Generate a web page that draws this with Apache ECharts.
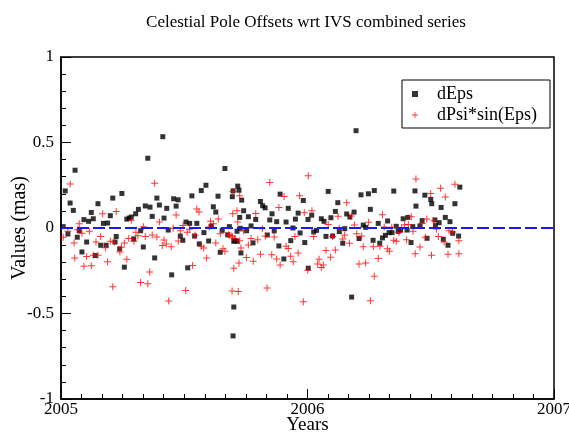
<!DOCTYPE html>
<html>
<head>
<meta charset="utf-8">
<script src="https://cdn.jsdelivr.net/npm/echarts@6/dist/echarts.min.js"></script>
<style>html,body{margin:0;padding:0;background:#fff;}#c{width:569px;height:437px;}</style>
</head>
<body>
<div id="c"></div>
<script>
var titleText = 'Celestial Pole Offsets wrt IVS combined series';
var seriesNames = ['dEps', 'dPsi*sin(Eps)'];
var xRange = [2005, 2007];
var yRange = [-1, 1];

var dEps = [
[2005.009,0.008],[2005.017,0.217],[2005.028,-0.035],[2005.037,0.146],[2005.050,0.103],[2005.057,0.338],
[2005.066,-0.054],[2005.074,-0.016],[2005.085,-0.140],[2005.093,0.049],[2005.104,-0.082],[2005.112,0.039],
[2005.123,0.091],[2005.131,0.054],[2005.139,-0.161],[2005.150,0.142],[2005.161,-0.101],[2005.172,0.027],
[2005.183,-0.101],[2005.189,0.029],[2005.200,0.072],[2005.210,0.175],[2005.219,-0.082],[2005.224,-0.050],
[2005.238,-0.122],[2005.247,0.202],[2005.257,-0.229],[2005.267,0.052],[2005.277,0.058],[2005.285,0.064],
[2005.295,-0.064],[2005.303,0.083],[2005.314,0.109],[2005.323,-0.016],[2005.334,-0.111],[2005.342,0.129],
[2005.352,0.408],[2005.361,0.122],[2005.370,0.068],[2005.380,-0.175],[2005.389,0.175],[2005.399,0.134],
[2005.413,0.534],[2005.418,0.058],[2005.429,0.115],[2005.435,-0.012],[2005.449,-0.274],[2005.457,0.171],
[2005.467,0.128],[2005.475,0.165],[2005.484,-0.047],[2005.494,-0.072],[2005.507,0.035],[2005.514,-0.233],
[2005.522,0.027],[2005.531,0.188],[2005.542,-0.047],[2005.551,0.027],[2005.561,-0.093],[2005.569,0.219],
[2005.580,-0.027],[2005.588,0.250],[2005.599,-0.076],[2005.609,0.010],[2005.618,0.124],[2005.628,0.093],
[2005.637,0.186],[2005.646,-0.142],[2005.654,-0.014],[2005.665,0.348],[2005.676,-0.040],[2005.683,0.008],
[2005.695,0.183],[2005.698,0.217],[2005.701,-0.078],[2005.701,-0.462],[2005.698,-0.631],[2005.705,-0.072],
[2005.714,-0.078],[2005.717,0.245],[2005.714,-0.019],[2005.722,0.221],[2005.725,0.062],[2005.727,-0.002],
[2005.730,-0.146],[2005.733,0.163],[2005.741,0.101],[2005.753,-0.016],[2005.760,0.066],[2005.771,0.012],
[2005.779,-0.087],[2005.790,0.050],[2005.809,0.155],[2005.818,0.130],[2005.828,0.118],[2005.837,-0.041],
[2005.847,0.047],[2005.856,0.083],[2005.865,-0.017],[2005.875,0.037],[2005.884,-0.105],[2005.889,0.198],
[2005.904,-0.181],[2005.913,0.035],[2005.922,0.115],[2005.932,-0.074],[2005.941,0.000],[2005.951,0.052],
[2005.962,0.087],[2005.970,-0.029],[2005.983,0.161],[2005.989,-0.085],[2006.002,0.050],[2006.003,-0.235],
[2006.017,0.075],[2006.025,-0.023],[2006.037,-0.014],[2006.056,0.054],[2006.067,0.039],[2006.075,-0.049],
[2006.084,0.214],[2006.095,0.060],[2006.102,-0.047],[2006.113,0.097],[2006.123,0.148],[2006.129,-0.021],
[2006.143,-0.089],[2006.151,-0.004],[2006.159,0.082],[2006.172,0.064],[2006.179,-0.404],[2006.189,0.093],
[2006.197,0.569],[2006.209,-0.062],[2006.217,0.194],[2006.226,0.017],[2006.236,0.004],[2006.247,0.200],
[2006.255,0.109],[2006.266,-0.072],[2006.271,0.219],[2006.287,0.027],[2006.293,-0.089],[2006.304,-0.058],
[2006.316,-0.043],[2006.325,0.041],[2006.331,-0.027],[2006.343,-0.027],[2006.350,0.216],[2006.360,0.010],
[2006.368,-0.020],[2006.378,-0.012],[2006.388,0.054],[2006.404,-0.012],[2006.407,0.062],[2006.420,-0.085],
[2006.427,0.008],[2006.436,0.217],[2006.440,0.128],[2006.456,0.012],[2006.465,0.043],[2006.476,0.192],
[2006.485,-0.060],[2006.500,0.167],[2006.504,0.142],[2006.517,0.047],[2006.519,0.014],[2006.534,0.031],
[2006.542,0.120],[2006.551,-0.066],[2006.559,0.062],[2006.570,-0.101],[2006.578,0.037],[2006.589,-0.031],
[2006.598,0.142],[2006.613,-0.047],[2006.618,0.239]
];

var dPsiSinEps = [
[2005.009,-0.054],[2005.028,-0.019],[2005.037,0.258],[2005.053,-0.087],[2005.056,-0.175],[2005.068,-0.010],
[2005.074,0.025],[2005.085,-0.031],[2005.093,-0.223],[2005.104,-0.167],[2005.115,-0.019],[2005.123,-0.221],
[2005.131,-0.159],[2005.142,-0.082],[2005.150,-0.159],[2005.161,-0.050],[2005.169,0.083],[2005.180,-0.115],
[2005.189,-0.198],[2005.200,-0.078],[2005.210,-0.344],[2005.216,-0.082],[2005.224,0.097],[2005.239,-0.140],
[2005.245,-0.113],[2005.257,-0.087],[2005.267,-0.183],[2005.275,-0.062],[2005.285,0.045],[2005.296,-0.078],
[2005.304,-0.025],[2005.312,-0.045],[2005.323,-0.318],[2005.334,0.008],[2005.342,-0.049],[2005.352,-0.326],
[2005.360,-0.258],[2005.370,-0.041],[2005.380,0.262],[2005.389,-0.052],[2005.399,0.035],[2005.411,-0.103],
[2005.418,-0.070],[2005.427,-0.093],[2005.437,-0.427],[2005.447,-0.109],[2005.455,-0.002],[2005.467,0.076],
[2005.476,-0.076],[2005.484,-0.016],[2005.495,0.014],[2005.506,-0.365],[2005.512,-0.025],[2005.522,-0.008],
[2005.534,-0.219],[2005.544,-0.043],[2005.551,0.111],[2005.560,0.093],[2005.569,-0.107],[2005.579,-0.117],
[2005.591,-0.175],[2005.602,0.006],[2005.607,0.039],[2005.618,0.025],[2005.628,-0.087],[2005.638,0.052],
[2005.646,-0.033],[2005.657,-0.122],[2005.665,-0.136],[2005.679,-0.039],[2005.685,-0.043],[2005.693,-0.047],
[2005.694,-0.369],[2005.695,-0.052],[2005.698,0.214],[2005.697,0.083],[2005.701,-0.235],[2005.706,-0.062],
[2005.714,0.101],[2005.717,0.035],[2005.719,-0.371],[2005.722,-0.204],[2005.725,0.188],[2005.725,-0.074],
[2005.730,-0.117],[2005.741,-0.017],[2005.752,-0.173],[2005.760,-0.099],[2005.771,-0.062],[2005.780,-0.194],
[2005.790,0.085],[2005.798,-0.068],[2005.809,-0.153],[2005.817,-0.004],[2005.829,-0.047],[2005.836,-0.351],
[2005.847,0.266],[2005.855,-0.157],[2005.865,-0.052],[2005.875,-0.181],[2005.884,0.120],[2005.889,-0.217],
[2005.905,0.184],[2005.913,-0.107],[2005.922,-0.120],[2005.932,-0.165],[2005.942,-0.198],[2005.949,-0.050],
[2005.962,-0.146],[2005.968,0.188],[2005.983,-0.431],[2005.987,0.089],[2006.001,-0.247],[2006.003,0.305],
[2006.018,0.101],[2006.025,-0.050],[2006.041,-0.210],[2006.047,-0.183],[2006.056,-0.231],[2006.064,-0.216],
[2006.075,-0.132],[2006.084,0.021],[2006.094,-0.171],[2006.102,-0.050],[2006.113,-0.128],[2006.124,0.068],
[2006.129,-0.002],[2006.143,-0.064],[2006.151,-0.041],[2006.159,0.148],[2006.170,-0.089],[2006.178,0.070],
[2006.190,0.017],[2006.200,-0.033],[2006.209,-0.210],[2006.220,-0.047],[2006.226,-0.109],[2006.236,-0.204],
[2006.248,0.033],[2006.255,-0.425],[2006.267,-0.109],[2006.271,-0.282],[2006.287,-0.179],[2006.294,-0.107],
[2006.304,0.078],[2006.311,0.006],[2006.324,-0.122],[2006.332,-0.136],[2006.342,0.004],[2006.350,-0.072],
[2006.360,-0.078],[2006.371,-0.027],[2006.382,0.000],[2006.394,0.019],[2006.402,-0.068],[2006.409,0.021],
[2006.421,0.066],[2006.428,-0.019],[2006.437,-0.150],[2006.440,0.287],[2006.456,-0.111],[2006.465,0.027],
[2006.478,-0.054],[2006.484,0.052],[2006.500,0.202],[2006.503,-0.159],[2006.513,0.043],[2006.523,-0.006],
[2006.531,-0.050],[2006.540,0.233],[2006.554,-0.082],[2006.559,0.181],[2006.570,-0.153],[2006.574,-0.016],
[2006.588,-0.023],[2006.598,0.256],[2006.614,-0.074],[2006.614,-0.150]
];

var zeroLine = [[2005, 0], [2007, 0]];

var FONT = '"Liberation Serif", "DejaVu Serif", serif';
var plus = 'path://M0,3H3V0H4V3H7V4H4V7H3V4H0Z';

var chart = echarts.init(document.getElementById('c'), null, {renderer: 'canvas'});
chart.setOption({
  animation: false,
  backgroundColor: '#fff',
  title: {
    text: titleText, left: 301, top: 9, textAlign: 'center',
    textStyle: {fontFamily: FONT, fontSize: 17, fontWeight: 'normal', color: '#000'}
  },
  grid: {left: 61, right: 15, top: 57, bottom: 38, show: true, borderColor: '#000', borderWidth: 1.5,
    backgroundColor: 'transparent', containLabel: false, outerBoundsMode: 'none'},
  legend: {
    data: seriesNames.map(function(n, i){ return {name: n, icon: i === 0 ? 'rect' : plus}; }),
    orient: 'vertical', right: 19, top: 80,
    borderColor: '#000', borderWidth: 1, padding: [5, 13, 4, 10], itemGap: 3,
    itemWidth: 6, itemHeight: 6,
    textStyle: {fontFamily: FONT, fontSize: 18, color: '#000', padding: [0, 0, 0, 14]}
  },
  xAxis: {
    type: 'value', min: xRange[0], max: xRange[1], interval: 1,
    name: 'Years', nameLocation: 'middle', nameGap: 17, nameMoveOverlap: false,
    nameTextStyle: {fontFamily: FONT, fontSize: 19, color: '#000'},
    axisLine: {show: true, onZero: false, lineStyle: {color: '#000', width: 1.5}},
    axisTick: {show: true, inside: true, length: 10, lineStyle: {color: '#000'}},
    minorTick: {show: true, splitNumber: 12, length: 5, lineStyle: {color: '#000'}},
    splitLine: {show: false},
    axisLabel: {fontFamily: FONT, fontSize: 17, color: '#000', margin: 2, formatter: function(v){ return String(Math.round(v)); }}
  },
  yAxis: {
    type: 'value', min: yRange[0], max: yRange[1], interval: 0.5,
    name: 'Values (mas)', nameLocation: 'middle', nameGap: 31, nameMoveOverlap: false,
    nameTextStyle: {fontFamily: FONT, fontSize: 20, color: '#000'},
    axisLine: {show: true, onZero: false, lineStyle: {color: '#000', width: 1.5}},
    axisTick: {show: true, inside: true, length: 10, lineStyle: {color: '#000'}},
    minorTick: {show: true, splitNumber: 5, length: 5, lineStyle: {color: '#000'}},
    splitLine: {show: false},
    axisLabel: {fontFamily: FONT, fontSize: 17, color: '#000', margin: 7,
      formatter: function(v){ return String(v); }}
  },
  series: [
    {name: seriesNames[0], type: 'scatter', data: dEps, symbol: 'rect', symbolSize: 5,
     itemStyle: {color: '#000'}, z: 3},
    {name: seriesNames[1], type: 'scatter', data: dPsiSinEps, symbol: plus, symbolSize: 7,
     itemStyle: {color: '#ff0000'}, z: 4},
    {name: 'zero', type: 'line', data: zeroLine, symbol: 'none', silent: true,
     lineStyle: {color: '#1a1aee', width: 2, type: [12, 4]}, z: 5}
  ]
});
</script>
</body>
</html>
